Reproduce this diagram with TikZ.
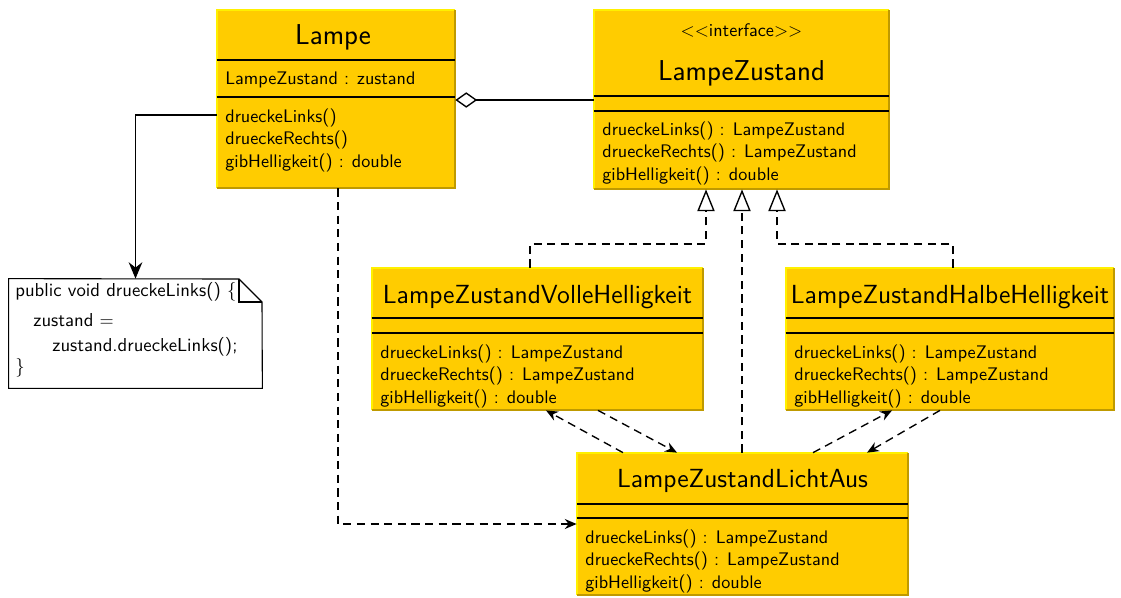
\documentclass[tikz,border=0pt]{standalone}
\usetikzlibrary{arrows.meta,fit}
\definecolor{classfill}{HTML}{FFCC00}
\definecolor{hlc}{HTML}{FFF000}
\definecolor{shc}{HTML}{BF9A00}
\newcommand\umlframe[1]{%
  \draw[hl] (#1.south west) -- (#1.north west) -- (#1.north east);
  \draw[shd] (#1.north east) -- (#1.south east) -- (#1.south west);}
\tikzset{
  cls/.style={fill=classfill, draw=none, inner sep=0pt},
  hl/.style={draw=hlc, line width=1.1pt},
  shd/.style={draw=shc, line width=1.2pt},
  sepline/.style={line width=0.6pt},
  ttl/.style={font=\sffamily\Large, inner sep=0pt},
  bigttl/.style={font=\sffamily\fontsize{15.8}{19}\selectfont, inner sep=0pt},
  txt/.style={font=\sffamily\fontsize{10}{12.4}\selectfont, anchor=west, inner sep=0pt, align=left},
  con/.style={line width=0.75pt},
  dsh/.style={con, dash pattern=on 4.5pt off 3pt},
  realiz/.style={dsh, -{Triangle[open, length=12pt, width=9.5pt]}},
  dep/.style={dsh, -{Stealth[length=6.5pt, width=5.5pt]}},
}
\begin{document}
\begin{tikzpicture}[x=0.55pt, y=-0.55pt]
\useasboundingbox (0,0) rectangle (1121,597);

% ---- Lampe
\node[cls, fit={(217,10)(455,188)}] (lampe) {};
\umlframe{lampe}
\node[bigttl] (lampeT) at (333,37) {Lampe};
\draw[sepline] (lampe.west |- 0,60) -- (lampe.east |- 0,60);
\node[txt] (lampeA) at (225,80) {LampeZustand : zustand};
\draw[sepline] (lampe.west |- 0,97) -- (lampe.east |- 0,97);
\node[txt] (lampeM) at (225,140) {drueckeLinks()\\drueckeRechts()\\gibHelligkeit() : double};

% ---- LampeZustand
\node[cls, fit={(594,10)(889,189)}] (lz) {};
\umlframe{lz}
\node[font=\sffamily, inner sep=0pt] (lzS) at (741.5,30) {$<<$interface$>>$};
\node[bigttl] (lzT) at (741.5,73) {LampeZustand};
\draw[sepline] (lz.west |- 0,96) -- (lz.east |- 0,96);
\draw[sepline] (lz.west |- 0,111) -- (lz.east |- 0,111);
\node[txt] (lzM) at (602,153) {drueckeLinks() : LampeZustand\\drueckeRechts() : LampeZustand\\gibHelligkeit() : double};

% ---- Volle
\node[cls, fit={(372,268)(703,410)}] (volle) {};
\umlframe{volle}
\node[ttl] (volleT) at (537.5,297) {LampeZustandVolleHelligkeit};
\draw[sepline] (volle.west |- 0,318) -- (volle.east |- 0,318);
\draw[sepline] (volle.west |- 0,333) -- (volle.east |- 0,333);
\node[txt] (volleM) at (380,376) {drueckeLinks() : LampeZustand\\drueckeRechts() : LampeZustand\\gibHelligkeit() : double};

% ---- Halbe
\node[cls, fit={(786,268)(1114,410)}] (halbe) {};
\umlframe{halbe}
\node[ttl] (halbeT) at (950,297) {LampeZustandHalbeHelligkeit};
\draw[sepline] (halbe.west |- 0,318) -- (halbe.east |- 0,318);
\draw[sepline] (halbe.west |- 0,333) -- (halbe.east |- 0,333);
\node[txt] (halbeM) at (794,376) {drueckeLinks() : LampeZustand\\drueckeRechts() : LampeZustand\\gibHelligkeit() : double};

% ---- LichtAus
\node[cls, fit={(577,453)(908,595)}] (la) {};
\umlframe{la}
\node[ttl] (laT) at (742.5,481) {LampeZustandLichtAus};
\draw[sepline] (la.west |- 0,504) -- (la.east |- 0,504);
\draw[sepline] (la.west |- 0,518) -- (la.east |- 0,518);
\node[txt] (laM) at (585,561) {drueckeLinks() : LampeZustand\\drueckeRechts() : LampeZustand\\gibHelligkeit() : double};

% ---- Note
\node[inner sep=0pt, fit={(9,279)(262,388)}] (note) {};
\draw[fill=white, line width=0.6pt] (note.south west) -- (note.north west) -- (239,279) -- (262,302) -- (note.south east) -- cycle;
\draw[line width=1pt] (239,279) -- (239,302) -- (262,302);
\node[txt, font=\sffamily\fontsize{10.3}{12.4}\selectfont] (n1) at (15,292) {public void drueckeLinks() \{};
\node[txt, font=\sffamily\fontsize{10.3}{12.4}\selectfont] (n2) at (33,320) {zustand $=$};
\node[txt, font=\sffamily\fontsize{10.3}{12.4}\selectfont] (n3) at (52,347) {zustand.drueckeLinks();};
\node[txt, font=\sffamily\fontsize{10.3}{12.4}\selectfont] (n4) at (15,368) {\}};

% ---- connectors
\draw[con, {Diamond[open, length=12pt, width=8.5pt]}-] (lampe.east |- 0,100) -- (lz.west |- 0,100);
\draw[con, -{Stealth[length=9pt, width=7.5pt]}] (lampe.west |- 0,115) -| (note.north);
\draw[dep] (lampe.south -| 338,0) |- (la.west);
\draw[realiz] (volle.north -| 530,0) -- (530,244) -| (lz.south -| 706,0);
\draw[realiz] (la.north -| 742,0) -- (lz.south -| 742,0);
\draw[realiz] (halbe.north -| 953,0) -- (953,244) -| (lz.south -| 777,0);
\draw[dep] (la.north -| 623,0) -- (volle.south -| 546,0);
\draw[dep] (volle.south -| 598,0) -- (la.north -| 677,0);
\draw[dep] (la.north -| 813,0) -- (halbe.south -| 892,0);
\draw[dep] (halbe.south -| 940,0) -- (la.north -| 867,0);
\end{tikzpicture}
\end{document}
